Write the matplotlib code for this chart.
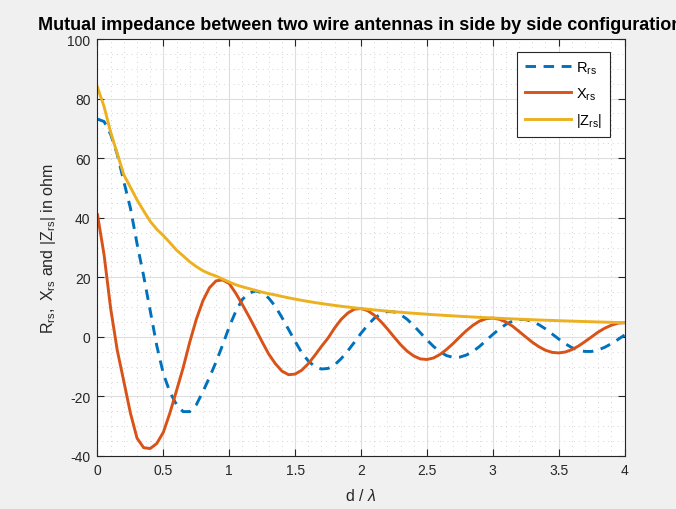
import numpy as np
import matplotlib.pyplot as plt
from matplotlib.ticker import MultipleLocator, FuncFormatter

# spacing d / lambda, sampled every 0.05
d = np.linspace(0, 4, 81)

# mutual resistance R_rs (ohm)
R_rs = [
    73.1, 72.3, 68.0, 61.3, 52.1, 43.2, 31.3, 20.5, 8.8, -3.0,
    -12.4, -18.6, -22.8, -25.1, -25.1, -22.8, -18.4, -13.6, -8.4, -2.7,
    3.4, 8.6, 12.6, 14.7, 15.4, 14.8, 13.0, 10.2, 6.5, 2.5,
    -1.5, -5.3, -8.1, -10.0, -10.8, -10.6, -9.4, -7.3, -4.7, -1.8,
    1.2, 3.9, 6.2, 7.7, 8.5, 8.4, 7.5, 5.9, 3.8, 1.4,
    -1.0, -3.2, -5.0, -6.3, -6.9, -6.8, -6.1, -4.9, -3.2, -1.2,
    0.8, 2.6, 4.2, 5.3, 5.8, 5.8, 5.2, 4.1, 2.7, 1.0,
    -0.7, -2.3, -3.6, -4.5, -4.9, -4.9, -4.4, -3.5, -2.3, -0.9,
    0.6]

# mutual reactance X_rs (ohm)
X_rs = [
    41.0, 27.5, 9.5, -4.5, -15.0, -25.6, -34.0, -37.2, -37.5, -35.8,
    -32.0, -25.5, -18.0, -10.4, -1.8, 5.9, 12.1, 16.5, 18.8, 19.1,
    17.9, 14.6, 10.8, 6.8, 2.6, -1.7, -5.8, -9.0, -11.5, -12.7,
    -12.5, -11.2, -9.0, -6.2, -3.2, -0.4, 3.0, 5.9, 8.0, 9.3,
    9.5, 8.8, 7.3, 5.2, 2.7, 0.0, -2.6, -4.8, -6.4, -7.4,
    -7.6, -7.1, -5.9, -4.2, -2.2, 0.0, 2.1, 3.9, 5.3, 6.1,
    6.3, 5.9, 5.0, 3.6, 1.8, 0.0, -1.8, -3.3, -4.5, -5.2,
    -5.4, -5.1, -4.3, -3.1, -1.6, 0.0, 1.6, 2.9, 3.9, 4.6,
    4.75]

# magnitude |Z_rs| (ohm)
Z_rs = [
    83.8, 77.3, 68.7, 61.5, 54.4, 50.2, 46.0, 42.3, 38.8, 36.1,
    34.0, 31.6, 29.1, 27.2, 25.2, 23.6, 22.2, 21.2, 20.4, 19.4,
    18.4, 17.5, 16.8, 16.2, 15.6, 15.0, 14.5, 14.07, 13.57, 13.1,
    12.67, 12.26, 11.88, 11.52, 11.18, 10.86, 10.56, 10.27, 10.0, 9.74,
    9.5, 9.27, 9.05, 8.84, 8.64, 8.44, 8.26, 8.09, 7.92, 7.76,
    7.6, 7.45, 7.31, 7.17, 7.04, 6.91, 6.79, 6.67, 6.55, 6.44,
    6.33, 6.23, 6.13, 6.03, 5.94, 5.85, 5.76, 5.67, 5.59, 5.51,
    5.43, 5.35, 5.28, 5.21, 5.14, 5.07, 5.0, 4.94, 4.87, 4.81,
    4.75]

plt.rcParams['font.family'] = ['Liberation Sans', 'DejaVu Sans']
plt.rcParams['mathtext.fontset'] = 'custom'
plt.rcParams['mathtext.rm'] = 'Liberation Sans'
plt.rcParams['mathtext.it'] = 'Liberation Sans:italic'

fig = plt.figure(figsize=(6.76, 5.10), dpi=100, facecolor='#f0f0f0')
ax = fig.add_axes([97.5 / 676, 1 - 457 / 510, 527 / 676, 417 / 510])

ax.plot(d, R_rs, color='#0072bd', lw=2.1, ls='--', dashes=(3.6, 2.6),
        label=r'$\mathregular{R_{rs}}$')
ax.plot(d, X_rs, color='#d95319', lw=2.1, label=r'$\mathregular{X_{rs}}$')
ax.plot(d, Z_rs, color='#edb120', lw=2.1, label=r'$\mathregular{|Z_{rs}|}$')

ax.set_xlim(0, 4)
ax.set_ylim(-40, 100)
ax.xaxis.set_major_locator(MultipleLocator(0.5))
ax.xaxis.set_minor_locator(MultipleLocator(0.1))
ax.yaxis.set_major_locator(MultipleLocator(20))
ax.yaxis.set_minor_locator(MultipleLocator(5))
ax.xaxis.set_major_formatter(FuncFormatter(lambda v, p: '%g' % v))
ax.yaxis.set_major_formatter(FuncFormatter(lambda v, p: '%g' % v))

ax.grid(which='major', color='#dedede', lw=0.8)
ax.grid(which='minor', color='#d4d4d4', lw=0.7, ls=(0, (1, 4)))
ax.set_axisbelow(True)
ax.tick_params(which='both', direction='in', top=True, right=True)
ax.tick_params(which='minor', length=0)
ax.tick_params(which='major', length=5, width=0.8, colors='#262626',
               labelsize=10, pad=5)
for s in ax.spines.values():
    s.set_color('#262626')
    s.set_linewidth(0.8)

ax.set_xlabel(r'd / $\lambda$', fontsize=11.5, color='#262626', labelpad=7)
ax.set_ylabel(r'$\mathregular{R_{rs},\ X_{rs}\ and\ |Z_{rs}|\ in\ ohm}$',
              fontsize=11.5, color='#262626', labelpad=7)

# title is centred on the axes and runs past the right edge of the figure
fig.text(360.5 / 676, 1 - 25 / 510,
         'Mutual impedance between two wire antennas in side by side configuration',
         ha='center', va='center', fontsize=13, fontweight='bold')

leg = ax.legend(loc='upper right', bbox_to_anchor=((610 - 97.5) / 527, 1 - 12.5 / 417),
                borderaxespad=0, fancybox=False, framealpha=1, edgecolor='#262626',
                fontsize=10.5, handlelength=3.2, labelspacing=0.65, borderpad=0.55,
                handletextpad=0.3)
leg.get_frame().set_linewidth(0.8)

fig.savefig('out.png', dpi=100, facecolor=fig.get_facecolor())
